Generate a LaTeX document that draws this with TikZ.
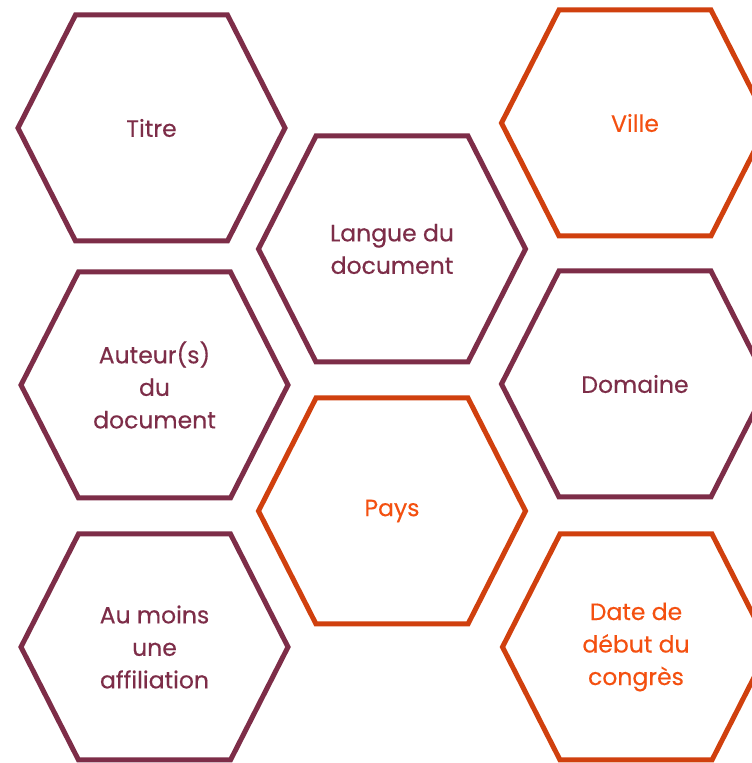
\documentclass[tikz,border=0pt]{standalone}
\usepackage{fontspec}
\setmainfont[Ligatures=NoCommon,FakeBold=0.3]{Poppins}
\definecolor{plum}{RGB}{125,45,72}
\definecolor{rust}{RGB}{208,64,14}
\definecolor{flame}{RGB}{244,80,16}
\tikzset{
  hexline/.style={line width=5pt, line join=miter},
  hextext/.style={align=center, font=\fontsize{23.5}{32.5}\selectfont, inner sep=0pt},
}
\newcommand\hexcell[3]{%
  \draw[hexline,#3] (#1-133.5,#2) -- (#1-76,#2+113) -- (#1+76,#2+113) -- (#1+133.5,#2) -- (#1+76,#2-113) -- (#1-76,#2-113) -- cycle;}
\begin{document}
\begin{tikzpicture}[x=1pt,y=1pt]
\useasboundingbox (0,0) rectangle (752,763);
\fill[white] (0,0) rectangle (752,763);
% centers (y flipped: 763 - y)
\hexcell{151.5}{635}{plum}
\hexcell{392}{514}{plum}
\hexcell{635}{640}{rust}
\hexcell{154.5}{378}{plum}
\hexcell{635}{379}{plum}
\hexcell{392}{252}{rust}
\hexcell{154.5}{116}{plum}
\hexcell{636}{116}{rust}
\node[hextext,text=plum] (titre) at (151.5,635) {Titre};
\node[hextext,text=plum] (langue) at (392,514) {Langue du\\document};
\node[hextext,text=flame] (ville) at (635,640) {Ville};
\node[hextext,text=plum] (auteur) at (154.5,378) {Auteur(s)\\du\\document};
\node[hextext,text=plum] (domaine) at (635,379) {Domaine};
\node[hextext,text=flame] (pays) at (392,252) {Pays};
\node[hextext,text=plum] (affil) at (154.5,116) {Au moins\\une\\affiliation};
\node[hextext,text=flame] (date) at (636,116) {Date de\\début du\\congrès};
\end{tikzpicture}
\end{document}
